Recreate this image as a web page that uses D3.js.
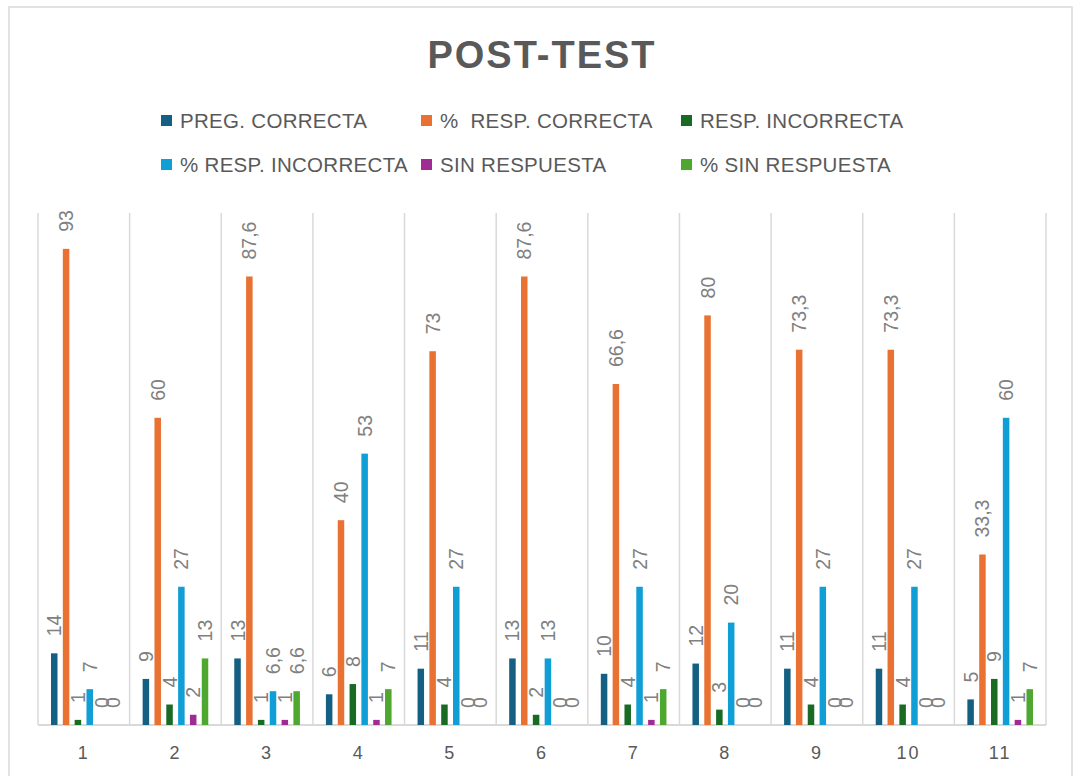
<!DOCTYPE html>
<html>
<head>
<meta charset="utf-8">
<script src="https://cdn.jsdelivr.net/npm/d3@7"></script>
<style>
  body { margin: 0; background: #fff; }
  svg { display: block; font-family: "Liberation Sans", Arial, sans-serif; }
</style>
</head>
<body>
<svg id="chart" width="1074" height="776"></svg>
<script>
// categorias e series
let categorias = ['1', '2', '3', '4', '5', '6', '7', '8', '9', '10', '11']
let series = ['PREG. CORRECTA', '%  RESP. CORRECTA', 'RESP. INCORRECTA', '% RESP. INCORRECTA', 'SIN RESPUESTA', '% SIN RESPUESTA']
let cores = ['#156082', '#E97132', '#196B24', '#0F9ED5', '#A02B93', '#4EA72E']

let pregCorrecta = [14, 9, 13, 6, 11, 13, 10, 12, 11, 11, 5]
let pctRespCorrecta = [93, 60, 87.6, 40, 73, 87.6, 66.6, 80, 73.3, 73.3, 33.3]
let respIncorrecta = [1, 4, 1, 8, 4, 2, 4, 3, 4, 4, 9]
let pctRespIncorrecta = [7, 27, 6.6, 53, 27, 13, 27, 20, 27, 27, 60]
let sinRespuesta = [0, 2, 1, 1, 0, 0, 1, 0, 0, 0, 1]
let pctSinRespuesta = [0, 13, 6.6, 7, 0, 0, 7, 0, 0, 0, 7]

let valores = [pregCorrecta, pctRespCorrecta, respIncorrecta, pctRespIncorrecta, sinRespuesta, pctSinRespuesta]

let svg = d3.select('#chart')

// borda externa
svg.append('rect')
    .attr('x', 9).attr('y', 7)
    .attr('width', 1063).attr('height', 790)
    .attr('fill', 'white')
    .attr('stroke', '#d9d9d9')
    .attr('stroke-width', 1.5)

svg.append('text').text('POST-TEST')
    .attr('x', 542).attr('y', 68)
    .attr('text-anchor', 'middle')
    .attr('fill', '#595959')
    .attr('font-size', '38px')
    .attr('font-weight', 'bold')
    .attr('letter-spacing', '2px')

// legenda
let legX = [161, 421, 681]
let legY = [121, 165]
series.forEach(function (s, i) {
    let lx = legX[i % 3]
    let ly = legY[Math.floor(i / 3)]
    svg.append('rect')
        .attr('x', lx).attr('y', ly - 6)
        .attr('width', 11).attr('height', 11)
        .attr('fill', cores[i])
    svg.append('text').text(s)
        .attr('x', lx + 19).attr('y', ly + 7)
        .attr('fill', '#595959')
        .attr('font-size', '20.5px')
        .attr('letter-spacing', '0.3px')
        .style('white-space', 'pre')
})

let esq = 38, dir = 1046, topo = 213, base = 725

let x = d3.scaleBand().domain(categorias).range([esq, dir]).padding(0)
let xs = d3.scaleBand().domain(series).range([13, x.bandwidth() - 13]).paddingInner(0.45).paddingOuter(0)
let y = d3.scaleLinear().domain([0, 100]).range([base, topo])

// linhas verticais de grade
let limites = categorias.map(c => x(c)).concat([dir])
svg.append('g').selectAll('line').data(limites).join('line')
    .attr('x1', d => d).attr('x2', d => d)
    .attr('y1', topo).attr('y2', base)
    .attr('stroke', '#d9d9d9')
    .attr('stroke-width', 1.5)

svg.append('line')
    .attr('x1', esq).attr('x2', dir)
    .attr('y1', base).attr('y2', base)
    .attr('stroke', '#d9d9d9')
    .attr('stroke-width', 2)

let dados = []
categorias.forEach(function (c, ci) {
    series.forEach(function (s, si) {
        dados.push({ cat: c, serie: s, v: valores[si][ci], cor: cores[si] })
    })
})

let grupo = svg.append('g')
grupo.selectAll('rect').data(dados).join('rect')
    .attr('x', d => x(d.cat) + xs(d.serie))
    .attr('y', d => y(d.v))
    .attr('width', xs.bandwidth())
    .attr('height', d => base - y(d.v))
    .attr('fill', d => d.cor)

grupo.selectAll('text').data(dados).join('text')
    .text(d => String(d.v).replace('.', ','))
    .attr('transform', d => {
        let cx = x(d.cat) + xs(d.serie) + xs.bandwidth() / 2
        let cy = y(d.v) - 17
        return 'translate(' + cx + ',' + cy + ') rotate(-90)'
    })
    .attr('dominant-baseline', 'central')
    .attr('fill', '#808080')
    .attr('font-size', '19.5px')

// eixo x
svg.append('g').selectAll('text').data(categorias).join('text')
    .text(d => d)
    .attr('x', d => x(d) + x.bandwidth() / 2)
    .attr('y', 759)
    .attr('text-anchor', 'middle')
    .attr('fill', '#595959')
    .attr('font-size', '18px')
    .attr('letter-spacing', '2px')
</script>
</body>
</html>
